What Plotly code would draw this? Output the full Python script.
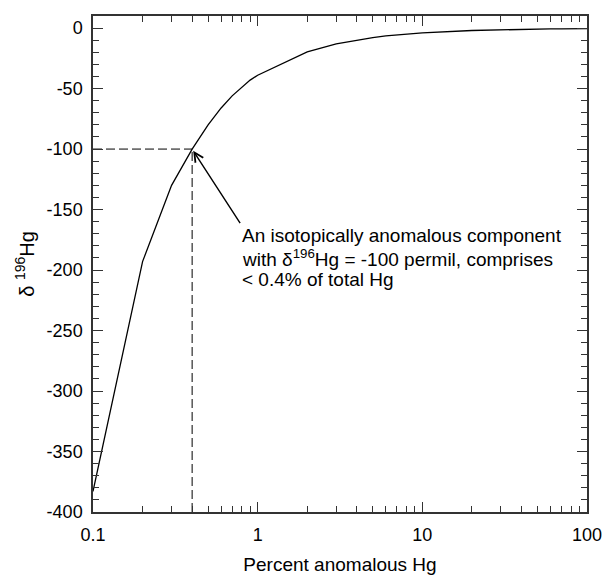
import plotly.graph_objects as go

# Data
percent_anomalous = [0.1, 0.2, 0.3, 0.4, 0.5, 0.6, 0.7, 0.8, 0.9, 1,
                     2, 3, 4, 5, 6, 7, 8, 9, 10,
                     20, 30, 40, 50, 60, 70, 80, 90, 100]
delta196 = [-383, -193, -130, -100, -80, -66, -56, -49, -43, -39,
            -19.6, -13, -9.8, -7.9, -6.5, -5.6, -4.9, -4.4, -3.9,
            -2.0, -1.3, -1.0, -0.8, -0.65, -0.56, -0.49, -0.43, -0.39]

marker_x = 0.4
marker_y = -100

x_tick_vals = [0.1, 1, 10, 100]
x_tick_text = ["0.1", "1", "10", "100"]
y_tick_vals = [0, -50, -100, -150, -200, -250, -300, -350, -400]
y_tick_text = ["0", "-50", "-100", "-150", "-200", "-250", "-300", "-350", "-400"]

note_lines = ["An isotopically anomalous component",
              "with δ<sup>196</sup>Hg = -100 permil, comprises",
              "< 0.4% of total Hg"]

FONT = "Liberation Sans, Arial, Helvetica, sans-serif"

fig = go.Figure()
fig.add_trace(go.Scatter(x=percent_anomalous, y=delta196, mode="lines",
                         line=dict(color="black", width=1.3), showlegend=False))
# dashed guide lines
fig.add_trace(go.Scatter(x=[0.1, marker_x], y=[marker_y, marker_y], mode="lines",
                         line=dict(color="black", width=1, dash="9px,4px"), showlegend=False))
fig.add_trace(go.Scatter(x=[marker_x, marker_x], y=[-400, marker_y], mode="lines",
                         line=dict(color="black", width=1, dash="9px,4px"), showlegend=False))

axis_common = dict(showline=True, linecolor="#333", linewidth=1.5, mirror="ticks",
                   ticks="inside", tickcolor="#333", tickwidth=1.2, showgrid=False,
                   zeroline=False, automargin=False,
                   tickfont=dict(family=FONT, size=18, color="black"))

fig.update_xaxes(type="log", range=[-1, 2], tickvals=x_tick_vals, ticktext=x_tick_text,
                 ticklen=10, ticklabelstandoff=6,
                 minor=dict(ticks="inside", ticklen=6, tickcolor="#333", tickwidth=1,
                            dtick="D1", showgrid=False),
                 title=dict(text="Percent anomalous Hg", font=dict(family=FONT, size=19, color="black"),
                            standoff=15),
                 **axis_common)
fig.update_yaxes(range=[-400, 10], tickvals=y_tick_vals, ticktext=y_tick_text,
                 ticklen=10, ticklabelstandoff=5,
                 minor=dict(ticks="inside", ticklen=6, tickcolor="#333", tickwidth=1,
                            dtick=10, showgrid=False),
                 title=dict(text="δ <sup>196</sup>Hg", font=dict(family=FONT, size=20, color="black"),
                            standoff=7),
                 **axis_common)

note_font = dict(family=FONT, size=19, color="black")
fig.add_annotation(x=-0.398, y=marker_y, xref="x", yref="y",
                   text=note_lines[0], xanchor="left", yanchor="top", align="left",
                   showarrow=True, axref="pixel", ayref="pixel", ax=48, ay=74,
                   arrowhead=5, arrowsize=1.3, arrowwidth=1.4, arrowcolor="black", standoff=2,
                   font=note_font)
fig.add_annotation(x=0.2976, y=0.513, xref="paper", yref="paper", text=note_lines[1],
                   xanchor="left", yanchor="middle", align="left", showarrow=False, font=note_font)
fig.add_annotation(x=0.2976, y=0.468, xref="paper", yref="paper", text=note_lines[2],
                   xanchor="left", yanchor="middle", align="left", showarrow=False, font=note_font)

fig.update_layout(width=604, height=575, margin=dict(l=93, r=17, t=16, b=63),
                  plot_bgcolor="white", paper_bgcolor="white")

fig.write_html("out.html")
